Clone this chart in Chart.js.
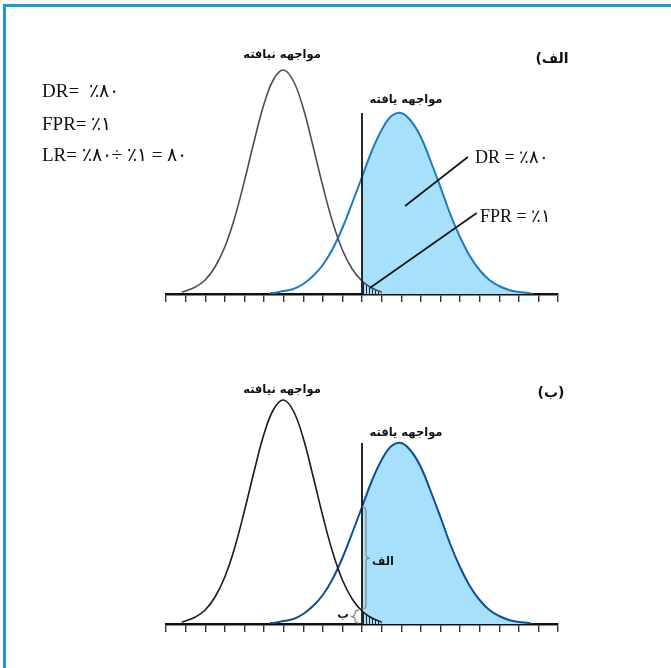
<!DOCTYPE html>
<html>
<head>
<meta charset="utf-8">
<script src="https://cdn.jsdelivr.net/npm/chart.js@4/dist/chart.umd.min.js"></script>
<style>
body { margin: 0; background: #fff; }
#frame { position: absolute; left: 3px; top: 4px; width: 668px; height: 664px;
         border-top: 3px solid #1a9bd7; border-left: 3px solid #1a9bd7; box-sizing: border-box; }
#panelA { position: absolute; left: 0; top: 0; }
#panelB { position: absolute; left: 0; top: 330px; }
</style>
</head>
<body>
<div id="frame"></div>
<canvas id="panelA" width="671" height="330"></canvas>
<canvas id="panelB" width="671" height="338"></canvas>
<script>
// x runs along the 20-step axis, y is the curve height
var axisMin = 0;
var axisMax = 20;
var cutoff = 10;

var notExposedX = [0.8, 1, 1.5, 2, 2.5, 3, 3.5, 4, 4.5, 5, 5.5, 6, 6.5, 7, 7.5, 8, 8.5, 9, 9.5, 10, 10.5, 11];
var notExposedY = [2, 3, 7, 14, 27, 47, 76, 113, 153, 190, 215, 224, 213, 186, 148, 108, 72, 44, 25, 13, 6, 2];

var exposedX = [5.3, 5.5, 6, 6.5, 7, 7.5, 8, 8.5, 9, 9.5, 10, 10.5, 11, 11.5, 12, 12.5, 13, 13.5, 14, 14.5, 15, 15.5, 16, 16.5, 17, 17.5, 18, 18.5, 18.7];
var exposedY = [1, 1, 3, 5, 10, 18, 29, 45, 66, 91, 117, 143, 164, 178, 181, 173, 157, 133, 107, 80, 57, 38, 24, 14, 8, 4, 2, 1, 0];

// leader lines from the areas to their labels (top panel)
var drPointer = [{x: 12.2, y: 88}, {x: 15.4, y: 137}];
var fprPointer = [{x: 10.4, y: 6}, {x: 15.85, y: 81}];

function points(xs, ys) {
    return xs.map(function (x, i) { return {x: x, y: ys[i]}; });
}

function hatchPattern() {
    var c = document.createElement('canvas');
    c.width = 3; c.height = 4;
    var g = c.getContext('2d');
    g.fillStyle = '#222';
    g.fillRect(0, 0, 1, 4);
    return g.createPattern(c, 'repeat');
}

function drawBrace(ctx, x, y0, y1, dir) {
    var ym = (y0 + y1) / 2;
    var h = 4, r = Math.min(4, (y1 - y0) / 4);
    ctx.beginPath();
    ctx.moveTo(x - dir * h, y0);
    ctx.quadraticCurveTo(x, y0, x, y0 + r);
    ctx.lineTo(x, ym - r);
    ctx.quadraticCurveTo(x, ym, x + dir * h, ym);
    ctx.quadraticCurveTo(x, ym, x, ym + r);
    ctx.lineTo(x, y1 - r);
    ctx.quadraticCurveTo(x, y1, x - dir * h, y1);
    ctx.stroke();
}

var persian = 'bold 11.5px "DejaVu Sans", sans-serif';
var serif = '19px "Liberation Serif", "DejaVu Serif", serif';

var panelA = {
    ndColor: '#4c4a5c',
    dColor: '#1b7cc0',
    pointers: true,
    braces: false,
    texts: [
        {t: 'مواجهه نیافته', x: 282, y: 55, font: persian, align: 'center', dir: 'rtl'},
        {t: 'مواجهه یافته', x: 406, y: 100, font: persian, align: 'center', dir: 'rtl'},
        {t: 'الف)', x: 552, y: 59, font: 'bold 14px "DejaVu Sans", sans-serif', align: 'center', dir: 'rtl'},
        {t: 'DR=  ٪۸۰', x: 42, y: 92, font: serif, align: 'left', dir: 'ltr'},
        {t: 'FPR= ٪۱', x: 42, y: 125, font: serif, align: 'left', dir: 'ltr'},
        {t: 'LR= ٪۸۰÷ ٪۱ = ۸۰', x: 42, y: 156, font: serif, align: 'left', dir: 'ltr'},
        {t: 'DR = ٪۸۰', x: 475, y: 158, font: '18px "Liberation Serif", serif', align: 'left', dir: 'ltr'},
        {t: 'FPR = ٪۱', x: 480, y: 217, font: '18px "Liberation Serif", serif', align: 'left', dir: 'ltr'}
    ]
};

var panelB = {
    ndColor: '#1a1a1a',
    dColor: '#0c4e9d',
    pointers: false,
    braces: true,
    texts: [
        {t: 'مواجهه نیافته', x: 282, y: 60, font: persian, align: 'center', dir: 'rtl'},
        {t: 'مواجهه یافته', x: 406, y: 103, font: persian, align: 'center', dir: 'rtl'},
        {t: '(ب)', x: 551, y: 63, font: 'bold 14px "DejaVu Sans", sans-serif', align: 'center', dir: 'rtl'}
    ]
};

function makePanel(canvas, panel) {
    var hatch = hatchPattern();
    var cutIdx = exposedX.indexOf(cutoff);
    var ndCutIdx = notExposedX.indexOf(cutoff);
    var peak = Math.max.apply(null, exposedY);

    var datasets = [
        {
            label: 'cutoff',
            data: [{x: cutoff, y: 0}, {x: cutoff, y: peak}],
            borderColor: '#111',
            borderWidth: 1.8
        }
    ];
    if (panel.pointers) {
        datasets.push({label: 'dr', data: drPointer, borderColor: '#111', borderWidth: 1.6});
        datasets.push({label: 'fpr', data: fprPointer, borderColor: '#111', borderWidth: 1.6});
    }
    datasets.push({
        label: 'not exposed',
        data: points(notExposedX, notExposedY),
        borderColor: panel.ndColor,
        borderWidth: 1.6,
        tension: 0.4,
        fill: 'origin',
        backgroundColor: 'rgba(0,0,0,0)',
        segment: {
            backgroundColor: function (ctx) {
                return notExposedX[ctx.p0DataIndex] >= cutoff ? hatch : 'rgba(0,0,0,0)';
            }
        }
    });
    datasets.push({
        label: 'exposed',
        data: points(exposedX, exposedY),
        borderColor: panel.dColor,
        borderWidth: 2,
        tension: 0.4,
        fill: 'origin',
        backgroundColor: 'rgba(0,0,0,0)',
        segment: {
            backgroundColor: function (ctx) {
                return exposedX[ctx.p0DataIndex] >= cutoff ? '#a6e0fa' : 'rgba(0,0,0,0)';
            }
        }
    });

    var notes = {
        id: 'notes',
        afterDraw: function (chart) {
            var ctx = chart.ctx;
            var xs = chart.scales.x, ys = chart.scales.y;
            ctx.save();
            if (panel.braces) {
                var cx = xs.getPixelForValue(cutoff);
                var top = ys.getPixelForValue(exposedY[cutIdx]);
                var mid = ys.getPixelForValue(notExposedY[ndCutIdx]);
                var base = ys.getPixelForValue(0);
                ctx.strokeStyle = '#8c8c8c';
                ctx.lineWidth = 1.3;
                drawBrace(ctx, cx + 4, top, mid - 2, 1);
                drawBrace(ctx, cx - 7, mid - 1, base - 1, -1);
                ctx.fillStyle = '#111';
                ctx.font = persian;
                ctx.direction = 'rtl';
                ctx.textAlign = 'center';
                ctx.textBaseline = 'middle';
                ctx.fillText('الف', cx + 21, (top + mid) / 2 + 3);
                ctx.fillText('ب', cx - 19, (mid + base) / 2 - 2);
            }
            panel.texts.forEach(function (t) {
                ctx.font = t.font;
                ctx.direction = t.dir;
                ctx.textAlign = t.align;
                ctx.textBaseline = 'middle';
                ctx.fillStyle = '#111';
                ctx.fillText(t.t, t.x, t.y);
            });
            ctx.restore();
        }
    };

    return new Chart(canvas, {
        type: 'line',
        data: {datasets: datasets},
        options: {
            responsive: false,
            animation: false,
            events: [],
            layout: {padding: {left: 166, right: 113, top: 54, bottom: canvas.height - 302}},
            elements: {point: {radius: 0}},
            plugins: {legend: {display: false}, tooltip: {enabled: false}},
            scales: {
                x: {
                    type: 'linear',
                    min: axisMin,
                    max: axisMax,
                    ticks: {display: false, stepSize: 1},
                    grid: {drawOnChartArea: false, drawTicks: true, tickLength: 8, color: '#333', lineWidth: 1.4},
                    border: {display: true, color: '#111', width: 2.5}
                },
                y: {display: false, min: 0, max: 240}
            }
        },
        plugins: [notes]
    });
}

makePanel(document.getElementById('panelA'), panelA);
makePanel(document.getElementById('panelB'), panelB);
</script>
</body>
</html>
